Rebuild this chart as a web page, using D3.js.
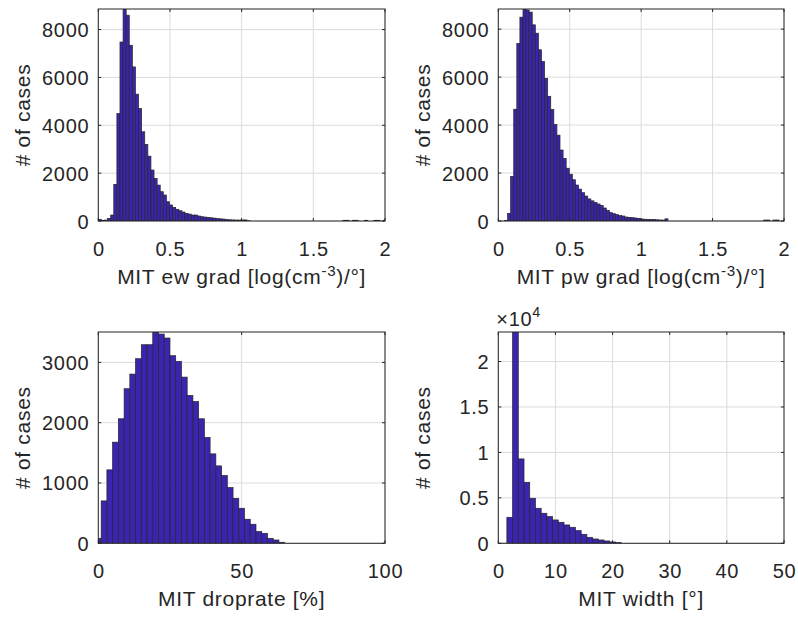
<!DOCTYPE html>
<html>
<head>
<meta charset="utf-8">
<script src="https://cdn.jsdelivr.net/npm/d3@7/dist/d3.min.js"></script>
<style>
    body { margin: 0; background: #fff; }
    svg text { font-family: "Liberation Sans", Arial, sans-serif; fill: #262626; letter-spacing: 0.7px; }
    .grid line { stroke: #dcdcdc; stroke-width: 1; }
    .bar { fill: #3b24b0; stroke: #262626; stroke-width: 0.7; }
    .box { fill: none; stroke: #262626; stroke-width: 1; }
    .tick-mark { stroke: #262626; stroke-width: 1; }
</style>
</head>
<body>
<div id="chartView"></div>
<script>
// histogram counts
var ewGradBinStart = 0, ewGradBinWidth = 0.0216;
var ewGradCounts = [70, 15, 40, 110, 250, 1530, 4490, 7480, 8860, 8600,
    7345, 6440, 5300, 4700, 3730, 3200, 2710, 2130, 1780, 1500,
    1225, 1085, 805, 670, 570, 490, 430, 375, 320, 290,
    250, 250, 210, 180, 165, 150, 135, 120, 100, 90,
    80, 60, 50, 45, 40, 40, 40, 45, 10,
    0, 0, 0, 0, 0, 0, 0, 0, 0, 0, 0, 0, 0, 0, 0, 0, 0, 0, 0, 0, 0, 0, 0, 0, 0, 0, 0, 0, 0, 0,
    30, 30, 0, 30, 30, 0, 0, 30, 0, 0, 30, 30, 0, 30];

var pwGradBinStart = 0, pwGradBinWidth = 0.0216;
var pwGradCounts = [0, 0, 20, 320, 1850, 4660, 7400, 8500, 8840, 8800,
    8710, 8180, 7830, 7140, 6650, 5950, 5200, 4650, 4020, 3580,
    2960, 2610, 2200, 1950, 1720, 1500, 1330, 1180, 1040, 920,
    840, 770, 710, 650, 542, 445, 348, 306, 264, 230,
    208, 167, 150, 139, 125, 110, 83, 75, 70, 65,
    60, 50, 42, 40, 90,
    0, 0, 0, 0, 0, 0, 0, 0, 0, 0, 0, 0, 0, 0, 0, 0, 0, 0, 0, 0, 0, 0, 0, 0, 0, 0, 0, 0, 0, 0, 0,
    40, 40, 0, 40, 40, 0, 0];

var droprateBinStart = -1, droprateBinWidth = 2;
var droprateCounts = [83, 703, 1218, 1677, 2065, 2563, 2806, 3061, 3293, 3293,
    3504, 3470, 3404, 3111, 3017, 2756, 2452, 2352, 2065, 1755,
    1483, 1284, 1124, 924, 747, 581, 399, 316, 194, 166,
    83, 55, 17];

var widthBinStart = 1.5, widthBinWidth = 1;
var widthCounts = [2862, 23250, 9285, 6716, 4955, 3854, 3303, 2936, 2569, 2312,
    2019, 1762, 1395, 991, 661, 477, 367, 257, 147, 73];

var gradTicks = [0, 0.5, 1, 1.5, 2];
var gradCountTicks = [0, 2000, 4000, 6000, 8000];
var droprateTicks = [0, 50, 100];
var droprateCountTicks = [0, 1000, 2000, 3000];
var widthTicks = [0, 10, 20, 30, 40, 50];
var widthCountTicks = [0, 5000, 10000, 15000, 20000];

var VIS = VIS || {};
VIS.histWidget = function (options) {

    if (!options) throw 'options can not be null';

    var defaultVal = {
        fontSize: 20,
        labelSize: 21,
        tickLen: 3
    };

    function Hist(options) {
        this.svg = options.svg;
        this.settings = Object.assign({}, defaultVal, options);
    }

    Hist.prototype = {
        init: function () {
            var self = this, s = self.settings;
            self.g = self.svg.append('g').attr('transform', 'translate(' + s.left + ',' + s.top + ')');
            self.w = s.width;
            self.h = s.height;
            self.bins = s.counts.map(function (c, i) {
                return { x0: s.binStart + i * s.binWidth, x1: s.binStart + (i + 1) * s.binWidth, n: c };
            });
            self.xScale = d3.scaleLinear().domain(s.xDomain).range([0, self.w]);
            self.yScale = d3.scaleLinear().domain([0, d3.max(s.counts)]).range([self.h, 0]);
            self._drawGrid();
            self._drawBars();
            self._drawAxes();
        },
        _drawGrid: function () {
            var self = this, s = self.settings;
            var grid = self.g.append('g').attr('class', 'grid');
            grid.selectAll('.gx').data(s.xTicks).enter().append('line')
                .attr('x1', function (d) { return self.xScale(d); })
                .attr('x2', function (d) { return self.xScale(d); })
                .attr('y1', 0).attr('y2', self.h);
            grid.selectAll('.gy').data(s.yTicks).enter().append('line')
                .attr('y1', function (d) { return self.yScale(d); })
                .attr('y2', function (d) { return self.yScale(d); })
                .attr('x1', 0).attr('x2', self.w);
        },
        _drawBars: function () {
            var self = this, s = self.settings;
            var clipId = 'clip' + s.id;
            self.g.append('clipPath').attr('id', clipId).append('rect')
                .attr('width', self.w).attr('height', self.h);
            self.g.append('g').attr('clip-path', 'url(#' + clipId + ')')
                .selectAll('.bar').data(self.bins.filter(function (b) { return b.n > 0; }))
                .enter().append('rect').attr('class', 'bar')
                .attr('x', function (d) { return self.xScale(d.x0); })
                .attr('width', function (d) { return self.xScale(d.x1) - self.xScale(d.x0); })
                .attr('y', function (d) { return self.yScale(d.n); })
                .attr('height', function (d) { return self.h - self.yScale(d.n); });
        },
        _drawAxes: function () {
            var self = this, s = self.settings;
            var xFmt = s.xFormat || function (d) { return d; };
            var yFmt = s.yFormat || function (d) { return d; };

            var xAxis = d3.axisBottom(self.xScale).tickValues(s.xTicks).tickSize(0).tickPadding(0).tickFormat(xFmt);
            var xg = self.g.append('g').attr('transform', 'translate(0,' + self.h + ')').call(xAxis);
            xg.select('.domain').remove();
            xg.selectAll('text').attr('dy', null).attr('y', 35).style('font-size', s.fontSize + 'px');

            var yAxis = d3.axisLeft(self.yScale).tickValues(s.yTicks).tickSize(0).tickPadding(0).tickFormat(yFmt);
            var yg = self.g.append('g').call(yAxis);
            yg.select('.domain').remove();
            yg.selectAll('text').attr('dy', '0.35em').attr('x', -9).style('font-size', s.fontSize + 'px');

            // inward tick marks on all four sides
            var tl = s.tickLen;
            var marks = self.g.append('g');
            s.xTicks.forEach(function (t) {
                var x = self.xScale(t);
                marks.append('line').attr('class', 'tick-mark').attr('x1', x).attr('x2', x).attr('y1', self.h).attr('y2', self.h - tl);
                marks.append('line').attr('class', 'tick-mark').attr('x1', x).attr('x2', x).attr('y1', 0).attr('y2', tl);
            });
            s.yTicks.forEach(function (t) {
                var y = self.yScale(t);
                marks.append('line').attr('class', 'tick-mark').attr('y1', y).attr('y2', y).attr('x1', 0).attr('x2', tl);
                marks.append('line').attr('class', 'tick-mark').attr('y1', y).attr('y2', y).attr('x1', self.w).attr('x2', self.w - tl);
            });
            self.g.append('rect').attr('class', 'box').attr('width', self.w).attr('height', self.h);

            // x label
            var xl = self.g.append('text').attr('text-anchor', 'middle')
                .attr('x', self.w / 2).attr('y', self.h + 63).style('font-size', s.labelSize + 'px');
            s.xLabel.forEach(function (part) {
                var ts = xl.append('tspan').text(part.t);
                if (part.sup) ts.attr('dy', -8).style('font-size', (s.labelSize * 0.72) + 'px');
                if (part.down) ts.attr('dy', 8);
            });

            // y label
            self.g.append('text').attr('text-anchor', 'middle')
                .attr('transform', 'translate(-68,' + self.h / 2 + ') rotate(-90)')
                .style('font-size', s.labelSize + 'px').text('# of cases');

            if (s.exponent) {
                var ex = self.g.append('text').attr('x', -2).attr('y', -6).style('font-size', s.fontSize + 'px');
                ex.append('tspan').text('\u00d710');
                ex.append('tspan').attr('dy', -9).style('font-size', (s.fontSize * 0.72) + 'px').text(s.exponent);
            }
        }
    };

    var hist = new Hist(options);
    hist.init();
    return { options: hist.settings };
};

var svg = d3.select('#chartView').append('svg').attr('width', 798).attr('height', 617)
    .style('background', '#fff');

VIS.histWidget({
    svg: svg, id: 1, left: 98.3, top: 9, width: 286.7, height: 212,
    counts: ewGradCounts, binStart: ewGradBinStart, binWidth: ewGradBinWidth,
    xDomain: [0, 2], xTicks: gradTicks, yTicks: gradCountTicks,
    xLabel: [{ t: 'MIT ew grad [log(cm' }, { t: '-3', sup: true }, { t: ')/\u00b0]', down: true }]
});
VIS.histWidget({
    svg: svg, id: 2, left: 498.3, top: 9, width: 285.7, height: 212,
    counts: pwGradCounts, binStart: pwGradBinStart, binWidth: pwGradBinWidth,
    xDomain: [0, 2], xTicks: gradTicks, yTicks: gradCountTicks,
    xLabel: [{ t: 'MIT pw grad [log(cm' }, { t: '-3', sup: true }, { t: ')/\u00b0]', down: true }]
});
VIS.histWidget({
    svg: svg, id: 3, left: 98.3, top: 332, width: 286.7, height: 211.3,
    counts: droprateCounts, binStart: droprateBinStart, binWidth: droprateBinWidth,
    xDomain: [0, 100], xTicks: droprateTicks, yTicks: droprateCountTicks,
    xLabel: [{ t: 'MIT droprate [%]' }]
});
VIS.histWidget({
    svg: svg, id: 4, left: 498.3, top: 332, width: 285.7, height: 211.3,
    counts: widthCounts, binStart: widthBinStart, binWidth: widthBinWidth,
    xDomain: [0, 50], xTicks: widthTicks, yTicks: widthCountTicks,
    yFormat: function (d) { return d / 10000; }, exponent: '4',
    xLabel: [{ t: 'MIT width [\u00b0]' }]
});
</script>
</body>
</html>
